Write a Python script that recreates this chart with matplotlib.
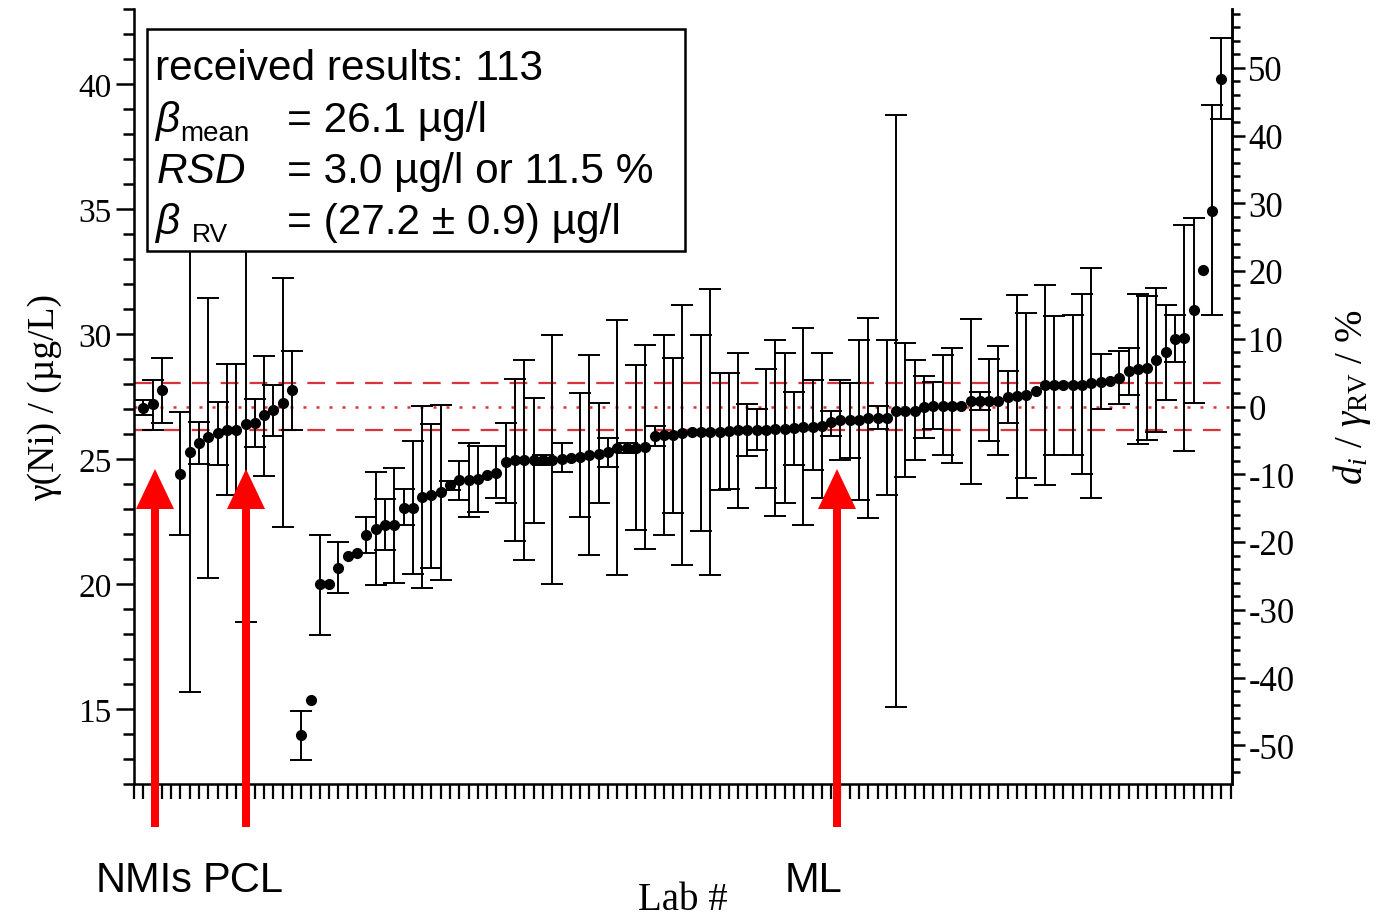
"""
Proficiency test for nickel: reported lab results with uncertainties,
reference value band and relative deviation axis.
Output: out.png (1377 x 920 px)
"""

import numpy as np
import matplotlib
matplotlib.use("Agg")
import matplotlib.pyplot as plt
import matplotlib.ticker as ticker
from matplotlib.patches import FancyArrow, Rectangle

# ── Data ────────────────────────────────────────────────────────────────────
# lab slot, reported value, upper / lower end of uncertainty (nan = no bar)
lab = [1, 2, 3, 5, 6, 7, 8, 9, 10, 11, 12, 13, 14, 15, 16, 17, 18, 19, 20,
       21, 22, 23, 24, 25, 26, 27, 28, 29, 30, 31, 32, 33, 34, 35, 36, 37,
       38, 39, 40, 41, 42, 43, 44, 45, 46, 47, 48, 49, 50, 51, 52, 53, 54,
       55, 56, 57, 58, 59, 60, 61, 62, 63, 64, 65, 66, 67, 68, 69, 70, 71,
       72, 73, 74, 75, 76, 77, 78, 79, 80, 81, 82, 83, 84, 85, 86, 87, 88,
       89, 90, 91, 92, 93, 94, 95, 96, 97, 98, 99, 100, 101, 102, 103, 104,
       105, 106, 107, 108, 109, 110, 111, 112, 113, 114, 115, 116, 117]

conc = [27.04, 27.20, 27.76, 24.42, 25.27, 25.65, 25.87, 26.04, 26.15, 26.18,
        26.41, 26.44, 26.75, 26.96, 27.26, 27.76, 13.96, 15.36, 20.00, 20.00,
        20.66, 21.12, 21.26, 21.95, 22.21, 22.35, 22.35, 23.05, 23.05, 23.48,
        23.55, 23.68, 23.95, 24.16, 24.16, 24.20, 24.35, 24.45, 24.90, 24.95,
        24.95, 24.95, 24.98, 24.98, 25.02, 25.05, 25.10, 25.15, 25.22, 25.28,
        25.45, 25.45, 25.45, 25.47, 25.91, 25.98, 25.98, 26.05, 26.07, 26.07,
        26.07, 26.10, 26.12, 26.15, 26.16, 26.17, 26.18, 26.20, 26.21, 26.24,
        26.27, 26.30, 26.31, 26.49, 26.56, 26.58, 26.58, 26.63, 26.65, 26.66,
        26.91, 26.93, 26.93, 27.09, 27.14, 27.12, 27.12, 27.14, 27.31, 27.31,
        27.31, 27.34, 27.49, 27.51, 27.58, 27.74, 27.98, 27.98, 27.95, 27.98,
        27.98, 28.05, 28.08, 28.14, 28.25, 28.51, 28.60, 28.64, 28.95, 29.27,
        29.80, 29.84, 30.95, 32.55, 34.94, 40.19]

nan = float("nan")
upper = [27.35, 28.18, 29.06, 26.90, 34.86, 26.48, 31.46, 27.30, 28.79, 28.79,
         34.34, 27.40, 29.14, 27.98, 32.24, 29.34, 14.94, nan, 21.96, nan,
         21.68, nan, nan, 22.68, 24.49, 23.39, 24.65, 23.79, 25.72, 27.11,
         26.42, 27.15, 24.12, 24.94, 25.66, 25.54, nan, 25.53, 26.46, 28.20,
         28.96, 27.46, 25.18, 29.98, 25.65, nan, 27.66, 29.15, 27.24, 25.85,
         30.56, 25.65, 28.77, 29.55, 26.33, 29.96, 29.05, 31.18, nan, 29.96,
         31.80, 28.43, 28.45, 29.24, 27.20, 26.99, 28.60, 29.75, 29.24, 27.67,
         30.24, 28.18, 29.24, 26.91, 28.15, 28.04, 29.78, 30.64, 27.11, 29.78,
         38.76, 29.64, 28.95, 28.34, 28.08, 29.16, 29.45, nan, 30.62, 27.67,
         28.99, 29.54, 28.51, 31.55, 30.85, nan, 31.96, 30.74, nan, 30.75,
         31.62, 32.66, 29.20, nan, 29.31, 29.44, 31.61, 31.53, 31.84, 31.15,
         30.75, 34.37, 34.66, nan, 39.16, 41.83]

lower = [26.75, 26.18, 26.44, 21.95, 15.68, 24.80, 20.24, 24.76, 23.56, 23.56,
         18.48, 25.48, 24.33, 25.94, 22.27, 26.18, 12.96, nan, 17.98, nan,
         19.66, nan, nan, 21.26, 19.96, 21.35, 20.06, 22.35, 20.39, 19.86,
         20.66, 20.15, 23.78, 23.36, 22.68, 22.87, nan, 23.43, 23.26, 21.72,
         20.95, 22.45, 24.78, 20.02, 24.48, nan, 22.68, 21.16, 23.25, 24.67,
         20.36, 25.25, 22.16, 21.39, 25.52, 21.96, 22.85, 20.78, nan, 22.12,
         20.36, 23.78, 23.80, 23.05, 25.12, 25.37, 23.85, 22.72, 23.25, 24.78,
         22.35, 24.56, 23.45, 25.94, 24.96, 25.05, 23.35, 22.65, 26.21, 23.55,
         15.08, 24.28, 24.96, 25.84, 26.22, 25.15, 24.86, nan, 24.02, 26.95,
         25.72, 25.18, 26.46, 23.46, 24.26, nan, 23.95, 25.16, nan, 25.17,
         24.42, 23.45, 27.00, nan, 27.22, 27.58, 25.62, 25.75, 26.07, 27.35,
         28.89, 25.34, 27.24, nan, 30.77, 38.59]

REF_VALUE = 27.1                 # assigned value (dotted line)
REF_BAND = (26.15, 28.05)        # expanded uncertainty (dashed lines)

box_lines = ["received results: 113", "= 26.1 µg/l",
             "= 3.0 µg/l or 11.5 %", "= (27.2 ± 0.9) µg/l"]
marks = [("NMIs", 155, 96), ("PCL", 246, 203), ("ML", 837, 785)]

# ── Style ────────────────────────────────────────────────────────────────────
W, H = 1377, 920
plt.rcParams.update({
    "font.family":        "Liberation Serif",
    "font.size":          24,
    "axes.unicode_minus": False,
    "mathtext.fontset":   "custom",
    "mathtext.rm":        "Liberation Serif",
    "mathtext.it":        "Liberation Serif:italic",
})

fig = plt.figure(figsize=(W / 100, H / 100), dpi=100)
ax = fig.add_axes([134 / W, (H - 785) / H, (1231.7 - 134) / W, (785 - 10) / H])

x = np.array(lab, dtype=float)
y = np.array(conc)
up = np.array(upper)
lo = np.array(lower)
has = ~np.isnan(up)

# ── Reference band ───────────────────────────────────────────────────────────
for v in REF_BAND:
    ax.axhline(v, color="#d9343c", lw=1.6, dashes=(8, 5), zorder=1)
ax.axhline(REF_VALUE, color="#d9343c", lw=1.8, dashes=(1.2, 4), zorder=1)

# ── Results with uncertainties ───────────────────────────────────────────────
ax.errorbar(x[has], y[has],
            yerr=[np.clip(y[has] - lo[has], 0, None),
                  np.clip(up[has] - y[has], 0, None)],
            fmt="none", ecolor="black", elinewidth=1.4,
            capsize=8, capthick=1.4, zorder=2)
ax.plot(x, y, "o", color="black", ms=7, zorder=3)

# ── Axes ─────────────────────────────────────────────────────────────────────
ax.set_xlim(0, 118.1)
ax.set_ylim(12, 43)
ax.spines["top"].set_visible(False)
for s in ("left", "right", "bottom"):
    ax.spines[s].set_linewidth(1.8)

ax.xaxis.set_major_locator(ticker.MultipleLocator(1))
ax.xaxis.set_major_formatter(ticker.NullFormatter())
ax.tick_params(axis="x", direction="out", length=11, width=1.6)
ax.yaxis.set_major_locator(ticker.MultipleLocator(5))
ax.yaxis.set_minor_locator(ticker.MultipleLocator(1))
ax.tick_params(axis="y", which="major", direction="out", length=13, width=1.8,
               pad=3, labelsize=24)
ax.tick_params(axis="y", which="minor", direction="out", length=8, width=1.8)

ax.set_ylabel("γ(Ni) / (µg/L)", fontsize=27, labelpad=12)
ax.set_xlabel("Lab #", fontsize=28)
ax.xaxis.set_label_coords(0.5, -0.125)

# relative deviation from the reference value, in %
ax2 = ax.twinx()
lo_y, hi_y = ax.get_ylim()
ax2.set_ylim((lo_y - REF_VALUE) / REF_VALUE * 100,
             (hi_y - REF_VALUE) / REF_VALUE * 100)
ax2.spines["top"].set_visible(False)
ax2.spines["right"].set_linewidth(1.8)
ax2.yaxis.set_major_locator(ticker.MultipleLocator(10))
ax2.yaxis.set_minor_locator(ticker.MultipleLocator(2))
ax2.tick_params(axis="y", which="major", direction="out", length=9, width=1.8,
                pad=3, labelsize=25)
ax2.tick_params(axis="y", which="minor", direction="out", length=6, width=1.8)
ax2.set_ylabel(r"$d_i$ / $\gamma_{\mathrm{RV}}$ / %", fontsize=28,
               labelpad=26)

# ── Overlay in pixel coordinates: info box, arrows, group labels ────────────
ov = fig.add_axes([0, 0, 1, 1])
ov.set_xlim(0, W)
ov.set_ylim(H, 0)
ov.axis("off")
ov.set_zorder(10)
ov.patch.set_alpha(0)

ov.add_patch(Rectangle((147, 30), 538, 222, facecolor="white",
                       edgecolor="black", lw=1.8))
sans = "Liberation Sans"
ov.text(155, 80, box_lines[0], fontsize=30.5, family=sans, va="baseline")
# β_mean
ov.text(155, 132, "β", fontsize=30.5, family=sans, style="italic",
        va="baseline")
ov.text(180, 141, "mean", fontsize=20, family=sans, va="baseline")
# RSD
ov.text(157, 183, "RSD", fontsize=30.5, family=sans, style="italic",
        va="baseline")
# β RV
ov.text(155, 234, "β", fontsize=30.5, family=sans, style="italic",
        va="baseline")
ov.text(192, 242, "RV", fontsize=19, family=sans, va="baseline")
for yy, s in zip((132, 183, 234), box_lines[1:]):
    ov.text(287, yy, s, fontsize=30.5, family=sans, va="baseline")

for name, ax_x, tx in marks:
    ov.add_patch(FancyArrow(ax_x, 828, 0, -358, width=8, head_width=38,
                            head_length=40, length_includes_head=True,
                            color="#ff0000", lw=0))
    ov.text(tx, 892, name, fontsize=30, family=sans, va="baseline")

fig.savefig("out.png", dpi=100, facecolor="white")
plt.close(fig)
